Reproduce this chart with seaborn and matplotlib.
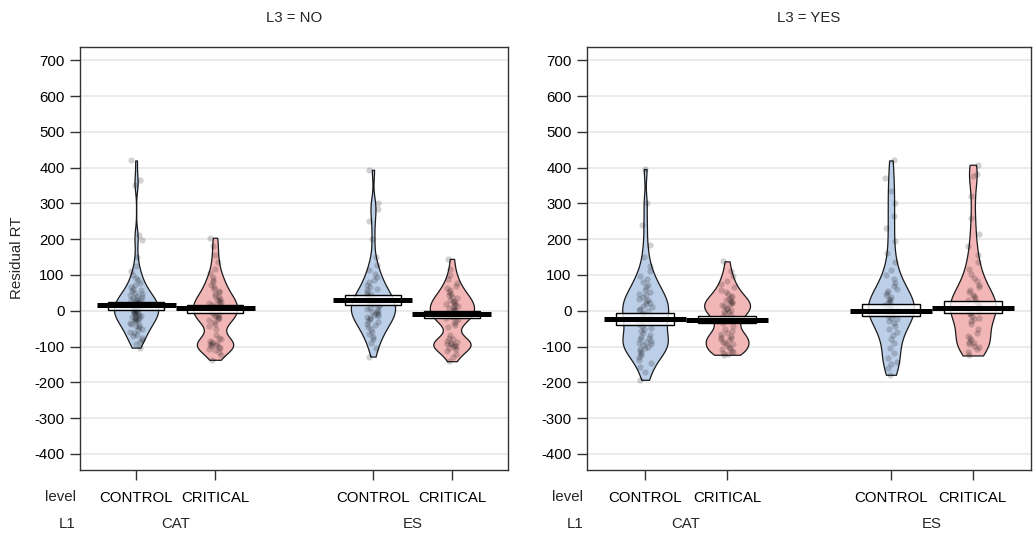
import numpy as np
import pandas as pd
import matplotlib.pyplot as plt
from matplotlib.patches import Rectangle
from matplotlib.transforms import blended_transform_factory
import seaborn as sns

panels = ["NO", "YES"]
l1_groups = ["CAT", "ES"]
levels = ["CONTROL", "CRITICAL"]

# residual RTs
rt_no_cat_control = [420, 365, 352, 212, 198, 150,
                     124, 110, 100, 92, 85, 78, 72, 67, 62, 58, 54, 50, 47, 44, 41, 38, 36, 34, 31,
                     29, 27, 25, 23, 21, 19, 17, 15, 13, 11, 9, 7, 5, 3, 1,
                     -1, -3, -5, -7, -9, -11, -13, -15, -17, -19, -21, -23, -25, -27, -30, -33,
                     -36, -39, -42, -46, -50, -54, -58, -62, -67, -71, -76, -81, -87, -94, -103]
rt_no_cat_critical = [204, 180, 155, 135,
                      118, 105, 95, 87, 80, 73, 67, 61, 56, 51, 46, 42, 38, 34, 31, 28, 25, 22, 19,
                      16, 13, 10, 7, 4, 1,
                      -2, -5, -8, -11, -14, -17, -20, -23, -27, -31, -36, -42, -50,
                      -68, -75, -80, -84, -87, -90, -92, -94, -96, -98, -100, -103, -106, -110,
                      -115, -124, -137]
rt_no_es_control = [394, 300, 285, 250, 200, 150,
                    128, 115, 104, 95, 87, 80, 73, 67, 62, 57, 52, 48, 44, 40, 36, 33, 30, 27, 24,
                    21, 18, 15, 12, 9, 6, 3,
                    0, -3, -6, -9, -12, -15, -18, -21, -24, -28, -32, -36, -41, -46, -52, -58,
                    -65, -72, -80, -90, -103, -128]
rt_no_es_critical = [145, 118, 100,
                     88, 78, 70, 63, 57, 52, 47, 43, 39, 35, 31, 28, 25, 22, 19, 16, 13, 10, 7, 4, 1,
                     -2, -5, -8, -11, -14, -17, -20, -24, -28, -33, -39, -46,
                     -68, -75, -80, -84, -87, -90, -92, -94, -96, -98, -100, -103, -107, -112,
                     -120, -130, -141]
rt_yes_cat_control = [396, 300, 240, 185, 150,
                      125, 110, 98, 88, 80, 72, 65, 59, 53, 48, 43, 38, 34, 30, 26, 22, 18, 14, 10,
                      6, 2, -2, -6, -10, -14, -18, -22, -27, -32, -37, -42, -47, -52, -57, -62,
                      -67, -72, -76, -80, -84, -88, -91, -94, -97, -100, -104, -108, -113, -118,
                      -124, -130, -137, -145, -158, -172, -193]
rt_yes_cat_critical = [138, 112, 96,
                       84, 74, 66, 59, 53, 47, 42, 38, 34, 30, 27, 24, 21, 18, 15, 12, 9, 6, 3, 0,
                       -3, -7, -11, -16, -21, -27, -34, -42,
                       -50, -56, -61, -66, -70, -74, -77, -80, -83, -86, -89, -92, -96, -100,
                       -104, -108, -112, -116, -119, -121, -123]
rt_yes_es_control = [420, 370, 335, 300, 265, 230, 195, 160,
                     135, 115, 100, 88, 78, 70, 62, 55, 49, 43, 38, 33, 29, 25, 21, 17, 13, 9, 5, 1,
                     -3, -7, -11, -15, -19, -24, -29, -35, -42, -50, -58, -67,
                     -78, -90, -103, -118, -132, -142, -150, -160, -179]
rt_yes_es_critical = [408, 382, 376, 320, 260, 215, 180,
                      155, 135, 118, 104, 92, 82, 73, 65, 58, 51, 45, 40, 35, 30, 26, 22, 18, 14,
                      10, 6, 2, -2, -6, -10, -14, -19, -24, -30, -37,
                      -52, -62, -70, -76, -81, -86, -90, -94, -98, -102, -107, -114, -125]

# mean line and inference band per bean (CAT CONTROL, CAT CRITICAL, ES CONTROL, ES CRITICAL)
mean_no = [15, 8, 31, -8]
band_lo_no = [1, -5, 15, -20]
band_hi_no = [24, 17, 45, 0]
mean_yes = [-22, -25, 0, 9]
band_lo_yes = [-41, -34, -16, -6]
band_hi_yes = [-6, -14, 19, 26]

rt_data = {
    ("NO", "CAT", "CONTROL"): rt_no_cat_control,
    ("NO", "CAT", "CRITICAL"): rt_no_cat_critical,
    ("NO", "ES", "CONTROL"): rt_no_es_control,
    ("NO", "ES", "CRITICAL"): rt_no_es_critical,
    ("YES", "CAT", "CONTROL"): rt_yes_cat_control,
    ("YES", "CAT", "CRITICAL"): rt_yes_cat_critical,
    ("YES", "ES", "CONTROL"): rt_yes_es_control,
    ("YES", "ES", "CRITICAL"): rt_yes_es_critical,
}
summary = {"NO": (mean_no, band_lo_no, band_hi_no),
           "YES": (mean_yes, band_lo_yes, band_hi_yes)}

rows = []
for (l3, l1, lvl), vals in rt_data.items():
    pos = l1_groups.index(l1) * 3 + levels.index(lvl) + 1
    for v in vals:
        rows.append({"L3": l3, "L1": l1, "level": lvl, "pos": pos, "rt": v})
df = pd.DataFrame(rows)

sns.set_theme(style="white")
plt.rcParams["font.family"] = ["Liberation Sans", "DejaVu Sans"]
plt.rcParams["axes.unicode_minus"] = False

pal = {"CONTROL": "#bccfe9", "CRITICAL": "#f3b6b7"}
positions = [1, 2, 4, 5]
fs = 10.8

W, H = 1034, 535
fig = plt.figure(figsize=(W / 100, H / 100), dpi=100)
ax_l = fig.add_axes([80 / W, 65 / H, 428 / W, 423 / H])
ax_r = fig.add_axes([587 / W, 65 / H, 444 / W, 423 / H])

np.random.seed(7)
for ax, l3 in zip([ax_l, ax_r], panels):
    sub = df[df["L3"] == l3]
    ax.set_axisbelow(True)
    sns.violinplot(data=sub, x="pos", y="rt", hue="level", hue_order=levels, palette=pal,
                   native_scale=True, dodge=False, inner=None, cut=0, density_norm="width",
                   width=0.56, bw_method="silverman", bw_adjust=0.55, linewidth=0.9,
                   linecolor="#1a1a1a", saturation=1, legend=False, ax=ax)
    sns.stripplot(data=sub, x="pos", y="rt", native_scale=True, color="black", alpha=0.18,
                  size=4.5, jitter=0.08, linewidth=0, ax=ax, zorder=3)

    means, lo, hi = summary[l3]
    for i, p in enumerate(positions):
        ax.add_patch(Rectangle((p - 0.35, lo[i]), 0.7, hi[i] - lo[i],
                               facecolor=(1, 1, 1, 0.8), edgecolor="black", lw=1, zorder=4))
        ax.hlines(means[i], p - 0.5, p + 0.5, color="black", lw=3.6, zorder=5)

    ax.set_xlim(0.29, 5.71)
    ax.set_ylim(-445, 737)
    ax.set_yticks(range(-400, 701, 100))
    ax.yaxis.grid(True, color="#e8e8e8", lw=1.2)
    ax.xaxis.grid(False)
    ax.set_xticks(positions)
    ax.set_xticklabels([lvl for _ in l1_groups for lvl in levels])
    ax.tick_params(axis="both", bottom=True, left=True, direction="out", length=7, width=1,
                   color="#333333", labelcolor="black", labelsize=fs)
    ax.tick_params(axis="x", pad=8)
    ax.tick_params(axis="y", pad=4)
    ax.set_xlabel("")
    ax.set_ylabel("")
    for s in ax.spines.values():
        s.set_color("#333333")
        s.set_linewidth(1)

    bbox = ax.get_position()
    fig.text(bbox.x0 + bbox.width / 2, 1 - 18 / H, f"L3 = {l3}", ha="center", va="center",
             fontsize=fs)
    fig.text(bbox.x0 - 4 / W, 1 - 497 / H, "level", ha="right", va="center", fontsize=fs)
    fig.text(bbox.x0 - 4 / W, 1 - 524 / H, "L1", ha="right", va="center", fontsize=fs)
    tr = blended_transform_factory(ax.transData, fig.transFigure)
    for j, g in enumerate(l1_groups):
        ax.text(j * 3 + 1.5, 1 - 524 / H, g, transform=tr, ha="center", va="center",
                fontsize=fs)

fig.text(17 / W, 1 - 258 / H, "Residual RT", rotation=90, ha="center", va="center",
         fontsize=fs)

fig.savefig("out.png", dpi=100)
